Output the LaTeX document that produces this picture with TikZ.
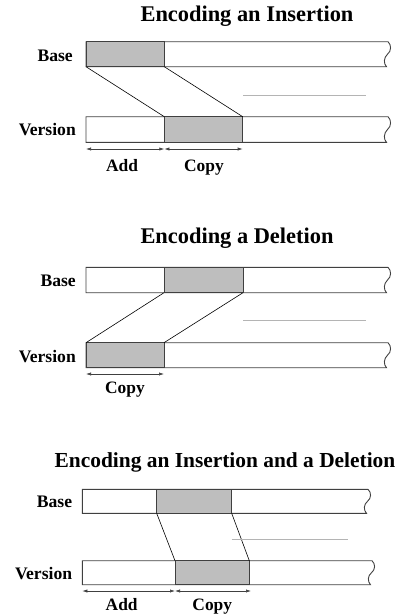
\documentclass[tikz,border=0pt]{standalone}
\usepackage{fontspec}
\setmainfont{Liberation Serif}
\usetikzlibrary{arrows.meta}
\definecolor{fillgray}{HTML}{BEBEBE}
\definecolor{edgegray}{HTML}{404040}
\definecolor{guidegray}{HTML}{B4B4B4}
\tikzset{
  barline/.style={draw=edgegray, line width=0.9pt},
  cellfill/.style={fill=fillgray, draw=edgegray, line width=0.9pt},
  linkline/.style={draw=black, line width=0.6pt},
  guideline/.style={draw=guidegray, line width=0.8pt},
  spanarrow/.style={draw=edgegray, line width=0.6pt, {Latex[length=5pt,width=3.2pt]}-{Latex[length=5pt,width=3.2pt]}},
  titletext/.style={font=\fontsize{22.4}{26}\selectfont\bfseries, anchor=base, inner sep=0pt},
  rowlabel/.style={font=\fontsize{17.6}{20}\selectfont\bfseries, anchor=base east, inner sep=0pt},
  spanlabel/.style={font=\fontsize{17.4}{20}\selectfont\bfseries, anchor=base, inner sep=0pt}
}
% bar with wavy right break: #1 left x, #2 top y, #3 right x, #4 height
\newcommand{\breakbar}[4]{%
  \draw[barline] (#3,#2) -- (#1,#2) -- (#1,#2+#4) -- (#3-1.5,#2+#4)
    .. controls (#3-4.5,#2+#4-3) and (#3-4.5,#2+#4-9) .. (#3-0.5,#2+0.5*#4)
    .. controls (#3+3.5,#2+0.5*#4-3) and (#3+3.5,#2+3) .. (#3,#2);}
\begin{document}
\begin{tikzpicture}[x=1pt,y=-1pt]
\useasboundingbox (0,0) rectangle (401,614);

% ---------- Section 1: insertion ----------
\node[titletext] (t1) at (247,21) {Encoding an Insertion};
\breakbar{86}{41.7}{388}{25}
\breakbar{86}{116.7}{388}{25.6}
\draw[cellfill] (86,41.7) rectangle (164.3,66.7);
\draw[cellfill] (164.3,116.7) rectangle (242.7,142.3);
\coordinate (b1a) at (86,66.7);
\coordinate (b1b) at (164.3,66.7);
\coordinate (v1a) at (164.3,116.7);
\coordinate (v1b) at (242.7,116.7);
\draw[linkline] (b1a) -- (v1a);
\draw[linkline] (b1b) -- (v1b);
\coordinate (g1a) at (243,95.3);
\coordinate (g1b) at (366,95.3);
\draw[guideline] (g1a) -- (g1b);
\node[rowlabel] (base1) at (73,61) {Base};
\node[rowlabel] (ver1) at (76,135.7) {Version};
\coordinate (a1l) at (86,149);
\coordinate (a1m) at (164.3,149);
\coordinate (a1r) at (242.7,149);
\draw[spanarrow] (a1l) -- (a1m);
\draw[spanarrow] (a1m) -- (a1r);
\node[spanlabel] (add1) at (122,171) {Add};
\node[spanlabel] (copy1) at (204,171) {Copy};

% ---------- Section 2: deletion ----------
\node[titletext] (t2) at (237,243.3) {Encoding a Deletion};
\breakbar{86}{267.3}{388}{25.4}
\breakbar{86}{342.7}{388}{25}
\draw[cellfill] (164,267.3) rectangle (243,292.7);
\draw[cellfill] (86,342.7) rectangle (164,367.7);
\coordinate (b2a) at (164,292.7);
\coordinate (b2b) at (243,292.7);
\coordinate (v2a) at (86,342.7);
\coordinate (v2b) at (164,342.7);
\draw[linkline] (b2a) -- (v2a);
\draw[linkline] (b2b) -- (v2b);
\coordinate (g2a) at (243,320.3);
\coordinate (g2b) at (366,320.3);
\draw[guideline] (g2a) -- (g2b);
\node[rowlabel] (base2) at (76,286.7) {Base};
\node[rowlabel] (ver2) at (76,362.3) {Version};
\coordinate (a2l) at (86,374);
\coordinate (a2r) at (164,374);
\draw[spanarrow] (a2l) -- (a2r);
\node[spanlabel] (copy2) at (125,393.3) {Copy};

% ---------- Section 3: insertion and deletion ----------
\node[titletext, font=\fontsize{21.4}{25}\selectfont\bfseries] (t3) at (225,467.7) {Encoding an Insertion and a Deletion};
\breakbar{82.3}{489.3}{368}{24}
\breakbar{82.3}{560.7}{372}{24}
\draw[cellfill] (156.7,489.3) rectangle (231.7,513.3);
\draw[cellfill] (175,560.7) rectangle (249.3,584.7);
\coordinate (b3a) at (156.7,513.3);
\coordinate (b3b) at (231.7,513.3);
\coordinate (v3a) at (175,560.7);
\coordinate (v3b) at (249.3,560.7);
\draw[linkline] (b3a) -- (v3a);
\draw[linkline] (b3b) -- (v3b);
\coordinate (g3a) at (231.7,539.3);
\coordinate (g3b) at (348.3,539.3);
\draw[guideline] (g3a) -- (g3b);
\node[rowlabel] (base3) at (72.3,507.3) {Base};
\node[rowlabel] (ver3) at (72.3,579) {Version};
\coordinate (a3l) at (82.3,591);
\coordinate (a3m) at (175,591);
\coordinate (a3r) at (251,591);
\draw[spanarrow] (a3l) -- (a3m);
\draw[spanarrow] (a3m) -- (a3r);
\node[spanlabel] (add3) at (121.7,610) {Add};
\node[spanlabel] (copy3) at (212.3,610) {Copy};
\end{tikzpicture}
\end{document}
